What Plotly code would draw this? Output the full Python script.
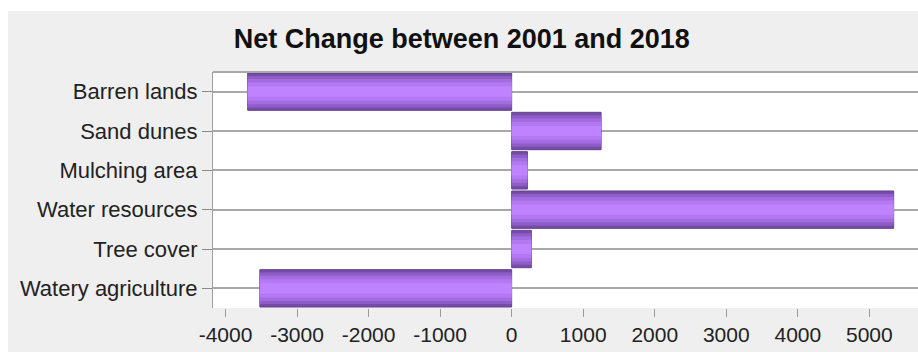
import plotly.graph_objects as go

# ---- data ----
categories = ["Barren lands", "Sand dunes", "Mulching area", "Water resources", "Tree cover", "Watery agriculture"]
net_change = [-3690, 1250, 220, 5340, 275, -3520]
x_ticks = [-4000, -3000, -2000, -1000, 0, 1000, 2000, 3000, 4000, 5000]
title_text = "Net Change between 2001 and 2018"

# ---- figure geometry (pixels) ----
W, H = 918, 352
L, R, T, B = 213, 0, 72, 44
pw, ph = W - L - R, H - T - B

def px_x(px):
    return (px - L) / pw

def px_y(py):
    return (H - B - py) / ph

# gradient layers (outer -> inner) to imitate the shaded bars
layer_widths = [0.95, 0.80, 0.64, 0.46, 0.26]
layer_colors = ["#754ca6", "#8e5dc8", "#a36ce1", "#b378f2", "#bf83ff"]

fig = go.Figure()
for i, (w, c) in enumerate(zip(layer_widths, layer_colors)):
    fig.add_trace(go.Bar(
        y=categories, x=net_change, orientation="h",
        width=w,
        marker=dict(color=c,
                    line=dict(color="#65418f" if i == 0 else c, width=1 if i == 0 else 0)),
        hoverinfo="x+y", showlegend=False,
    ))

FONT = "Liberation Sans, Arial, sans-serif"

fig.update_layout(
    width=W, height=H,
    margin=dict(l=L, r=R, t=T, b=B, pad=0),
    barmode="overlay",
    paper_bgcolor="#efefef",
    plot_bgcolor="#ffffff",
    font=dict(family=FONT, color="#222222", size=21),
    title=dict(text="<b>" + title_text + "</b>", x=0.503, xref="container", xanchor="center",
               y=1 - 39 / H, yref="container", yanchor="middle",
               font=dict(size=27, color="#111111", family=FONT)),
    showlegend=False,
    xaxis=dict(
        range=[-4175, 5680], tickmode="array", tickvals=x_ticks,
        ticktext=[str(v) for v in x_ticks],
        showgrid=False, zeroline=False, showline=False,
        ticks="outside", ticklen=8, tickwidth=1, tickcolor="#9a9a9a",
        tickfont=dict(size=21, color="#222222", family=FONT), fixedrange=True,
    ),
    yaxis=dict(
        categoryorder="array", categoryarray=categories, autorange="reversed",
        showgrid=True, gridcolor="#a8a8a8", gridwidth=2,
        showline=True, linecolor="#a0a0a0", linewidth=1,
        ticks="outside", ticklen=10, tickwidth=1, tickcolor="#8a8a8a",
        tickfont=dict(size=22, color="#222222", family=FONT), fixedrange=True,
    ),
    shapes=[
        # top border of the plot box
        dict(type="line", xref="paper", yref="paper", x0=0, x1=1, y0=1, y1=1,
             line=dict(color="#a8a8a8", width=2)),
        # white strip above the grey panel
        dict(type="rect", xref="paper", yref="paper", x0=px_x(-5), x1=px_x(W + 5),
             y0=px_y(11), y1=px_y(-5), fillcolor="#ffffff", line=dict(width=0)),
        # white strip left of the grey panel
        dict(type="rect", xref="paper", yref="paper", x0=px_x(-5), x1=px_x(8),
             y0=px_y(H + 5), y1=px_y(-5), fillcolor="#ffffff", line=dict(width=0)),
    ],
)

fig.write_html("out.html")
